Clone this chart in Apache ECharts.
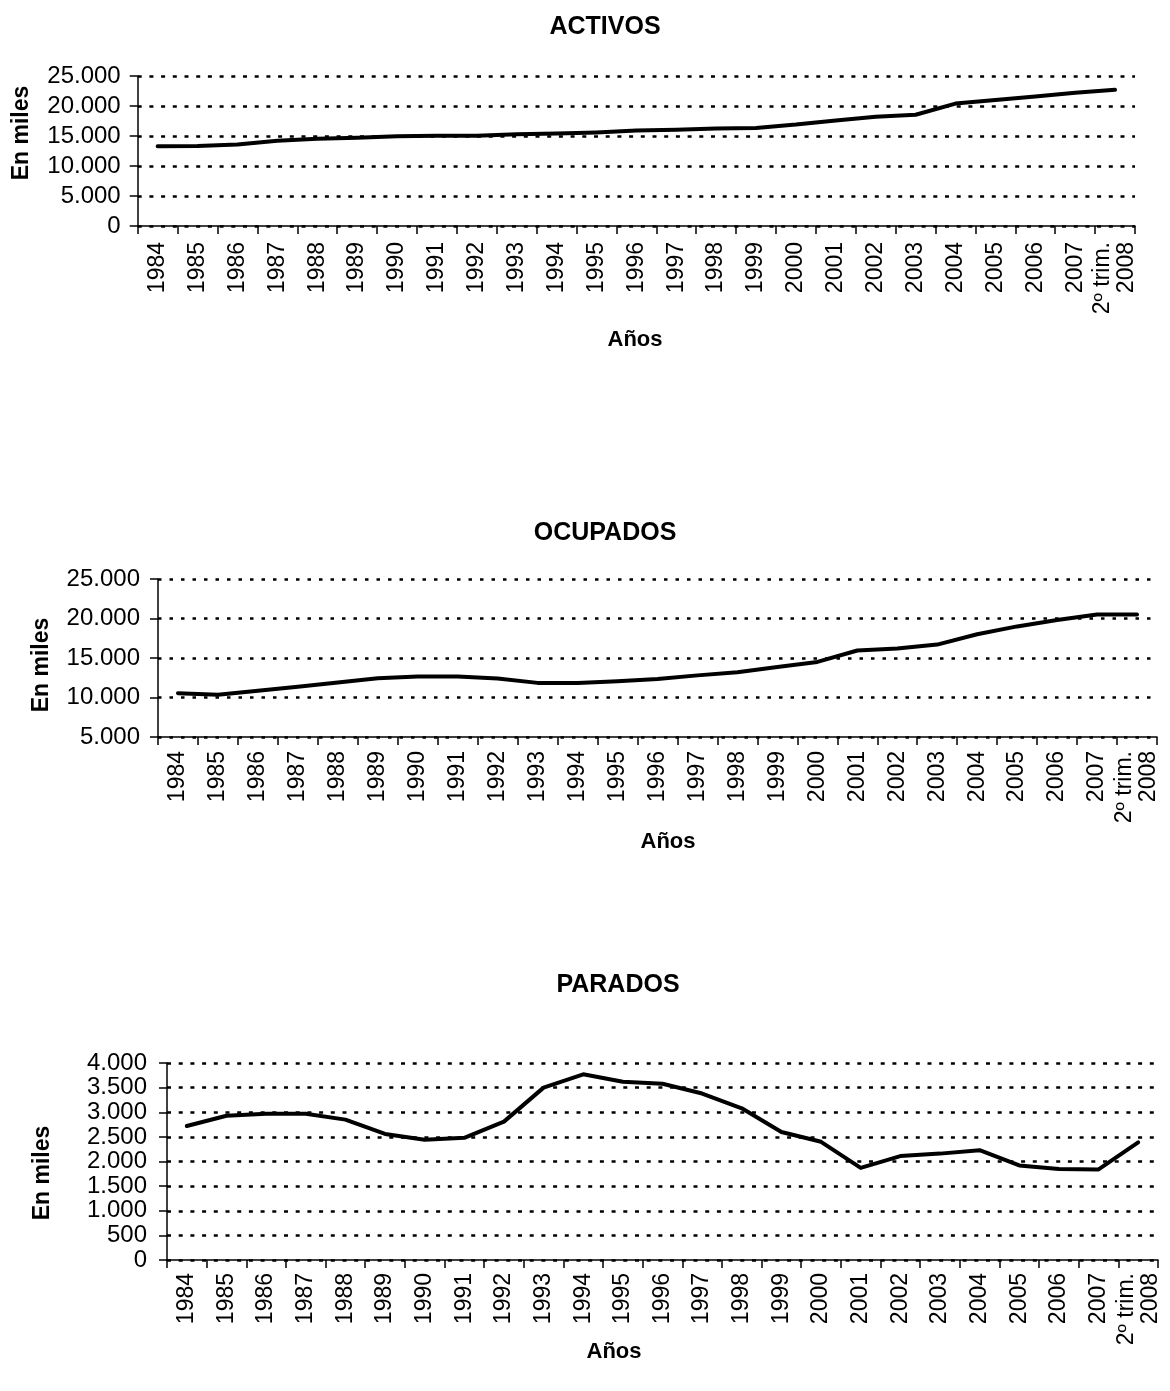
<!DOCTYPE html>
<html>
<head>
<meta charset="utf-8">
<script src="https://cdn.jsdelivr.net/npm/echarts@6/dist/echarts.min.js"></script>
<style>
html,body{margin:0;padding:0;background:#fff;}
#c{width:1170px;height:1391px;}
</style>
</head>
<body>
<div id="c"></div>
<script>
const categories = ['1984','1985','1986','1987','1988','1989','1990','1991','1992','1993','1994','1995','1996','1997','1998','1999','2000','2001','2002','2003','2004','2005','2006','2007','2º trim.\n2008'];
const activos = [13300,13350,13600,14200,14550,14700,14950,15050,15050,15300,15400,15600,15900,16050,16250,16350,16900,17600,18200,18550,20400,21000,21600,22200,22700];
const ocupados = [10550,10350,10850,11350,11900,12450,12650,12650,12400,11850,11850,12050,12350,12800,13200,13850,14500,15950,16200,16700,18000,19000,19800,20500,20500];
const parados = [2720,2930,2970,2970,2850,2560,2440,2480,2810,3500,3770,3620,3580,3380,3080,2600,2400,1870,2110,2160,2230,1920,1850,1840,2390];
const titles = ['ACTIVOS','OCUPADOS','PARADOS'];
const yTitle = 'En miles';
const xTitle = 'Años';

const FONT = 'Arial, "Liberation Sans", sans-serif';
const fmt = v => String(v).replace(/\B(?=(\d{3})+(?!\d))/g, '.');

const grids = [
  {left:137.7, top:76, width:997.3, height:150},
  {left:158, top:579, width:999, height:158},
  {left:167, top:1063, width:991, height:197}
];
const yCfg = [
  {min:0, max:25000, interval:5000, margin:17, dash:[4,7.7]},
  {min:5000, max:25000, interval:5000, margin:18, dash:[3.5,8]},
  {min:0, max:4000, interval:500, margin:20, dash:[4,7.7]}
];
const xMargin = [16, 14, 13];
const seriesData = [activos, ocupados, parados];

const option = {
  animation:false,
  backgroundColor:'#fff',
  title: [
    {text:titles[0], left:600, top:22, textAlign:'center', textVerticalAlign:'middle'},
    {text:titles[1], left:600, top:528, textAlign:'center', textVerticalAlign:'middle'},
    {text:titles[2], left:613, top:980, textAlign:'center', textVerticalAlign:'middle'}
  ].map(t => Object.assign(t, {textStyle:{fontFamily:FONT, fontSize:25, fontWeight:'bold', color:'#000'}})),
  grid: grids,
  xAxis: grids.map((g,i) => ({
    type:'category', gridIndex:i, data:categories, boundaryGap:true,
    axisLine:{lineStyle:{color:'#000', width:1.5}},
    axisTick:{show:true, length:8, alignWithLabel:false, lineStyle:{color:'#000', width:1.5}},
    axisLabel:{interval:0, rotate:90, margin:xMargin[i], color:'#000', fontFamily:FONT, fontSize:23, lineHeight:24},
    splitLine:{show:false}
  })),
  yAxis: grids.map((g,i) => ({
    type:'value', gridIndex:i, min:yCfg[i].min, max:yCfg[i].max, interval:yCfg[i].interval,
    axisLine:{show:true, lineStyle:{color:'#000', width:1.5}},
    axisTick:{show:true, length:8, lineStyle:{color:'#000', width:1.5}},
    axisLabel:{margin:yCfg[i].margin, color:'#000', fontFamily:FONT, fontSize:24, formatter:fmt},
    splitLine:{show:true, lineStyle:{color:'#000', width:2.5, type:yCfg[i].dash}}
  })),
  series: seriesData.map((d,i) => ({
    type:'line', xAxisIndex:i, yAxisIndex:i, data:d, showSymbol:false, symbol:'none',
    lineStyle:{color:'#000', width:4, join:'round', cap:'round'}, z:5
  })),
  graphic: [
    {type:'text', x:22, y:133, rotation:Math.PI/2, style:{text:yTitle, font:'bold 23px '+FONT, fill:'#000', align:'center', verticalAlign:'middle'}},
    {type:'text', x:42, y:665, rotation:Math.PI/2, style:{text:yTitle, font:'bold 23px '+FONT, fill:'#000', align:'center', verticalAlign:'middle'}},
    {type:'text', x:43, y:1173, rotation:Math.PI/2, style:{text:yTitle, font:'bold 23px '+FONT, fill:'#000', align:'center', verticalAlign:'middle'}},
    {type:'text', x:635, y:340, style:{text:xTitle, font:'bold 22px '+FONT, fill:'#000', align:'center', verticalAlign:'middle'}},
    {type:'text', x:668, y:842, style:{text:xTitle, font:'bold 22px '+FONT, fill:'#000', align:'center', verticalAlign:'middle'}},
    {type:'text', x:614, y:1352, style:{text:xTitle, font:'bold 22px '+FONT, fill:'#000', align:'center', verticalAlign:'middle'}}
  ]
};
const chart = echarts.init(document.getElementById('c'), null, {renderer:'canvas'});
chart.setOption(option);
</script>
</body>
</html>
